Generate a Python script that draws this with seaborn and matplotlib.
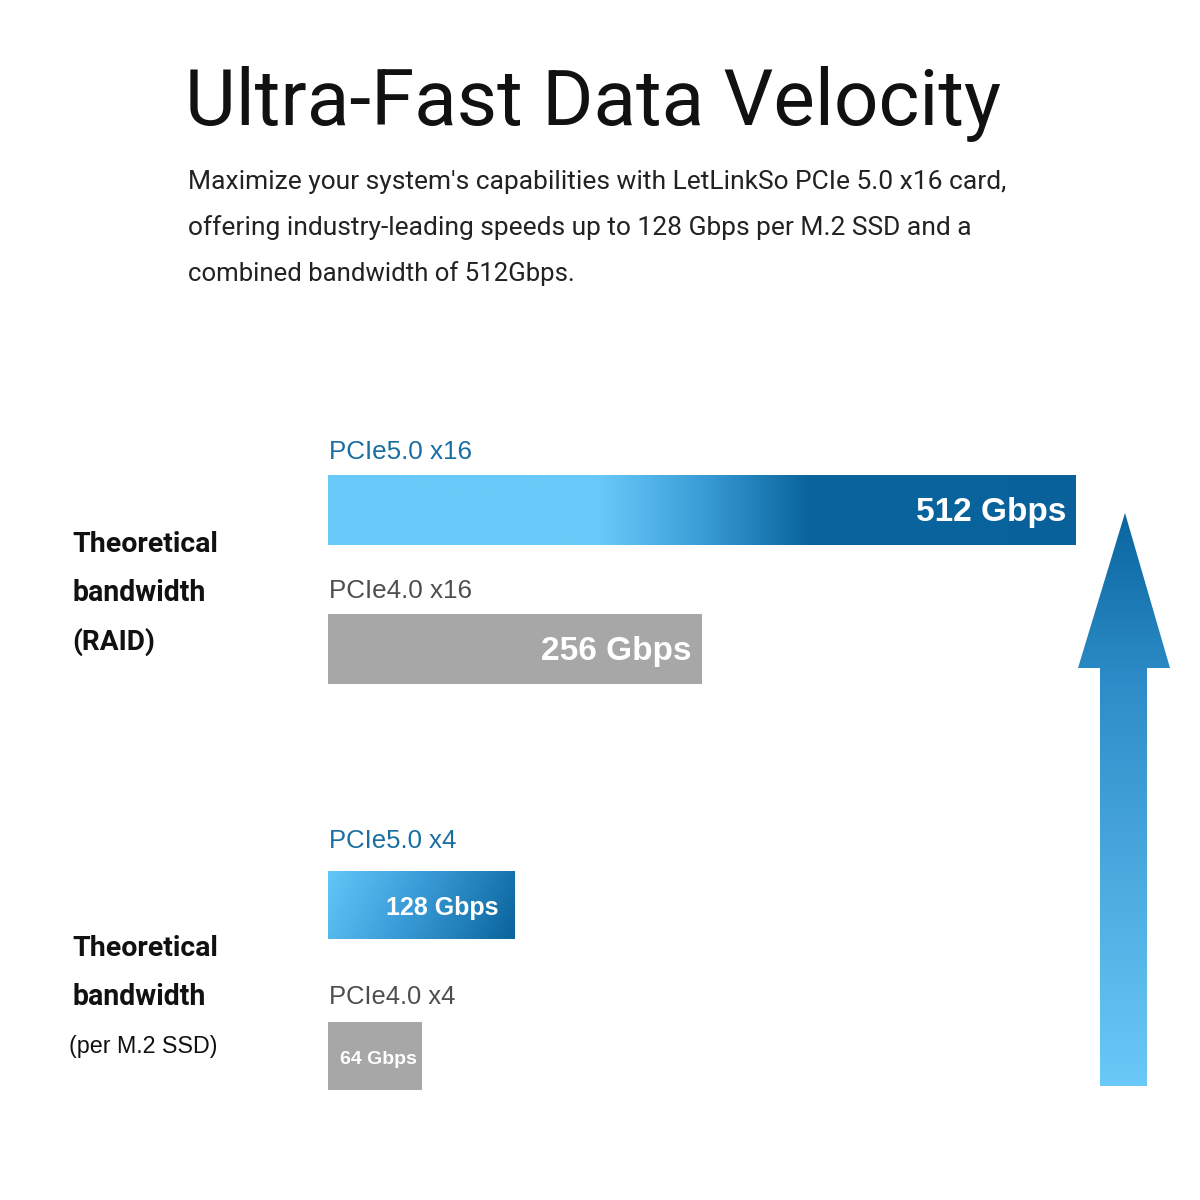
import numpy as np
import matplotlib
matplotlib.use("Agg")
import matplotlib.pyplot as plt
import seaborn as sns
from matplotlib.colors import LinearSegmentedColormap
from matplotlib.patches import Polygon

# --- data -------------------------------------------------------------
RAID_LINKS = ["PCIe5.0 x16", "PCIe4.0 x16"]
RAID_GBPS = [512, 256]
SSD_LINKS = ["PCIe5.0 x4", "PCIe4.0 x4"]
SSD_GBPS = [128, 64]
GROUP_LABELS = [
    ["Theoretical", "bandwidth", "(RAID)"],
    ["Theoretical", "bandwidth", "(per M.2 SSD)"],
]
TITLE = "Ultra-Fast Data Velocity"
SUBTITLE = [
    "Maximize your system's capabilities with LetLinkSo PCIe 5.0 x16 card,",
    "offering industry-leading speeds up to 128 Gbps per M.2 SSD and a",
    "combined bandwidth of 512Gbps.",
]

# --- style ------------------------------------------------------------
LIGHT = "#69CAF9"
MID = "#3A9DD6"
DARK = "#0A659E"
GRAY = "#A7A7A7"
NEW_TXT = "#1A6EA2"
OLD_TXT = "#4E4E4E"
HEAD_FONT = "Roboto"
CHART_FONT = "Liberation Sans"

W = H = 1200


def fx(px):
    return px / W


def fy(py):
    return 1 - py / H


def fit_width(txt, target_px, renderer):
    # scale font so the rendered text spans target_px
    w = txt.get_window_extent(renderer).width
    txt.set_fontsize(txt.get_fontsize() * target_px / w)


sns.set_theme(style="white")
plt.rcParams["font.family"] = [HEAD_FONT, "DejaVu Sans"]

fig = plt.figure(figsize=(12, 12), dpi=100)
fig.patch.set_facecolor("white")
renderer = fig.canvas.get_renderer()

# title and intro text
t = fig.text(fx(593), fy(104), TITLE, ha="center", va="center",
             fontsize=50, color="#111111", family=HEAD_FONT)
fit_width(t, 817, renderer)
sub_widths = [820, 782, 386]
for i, (line, sw) in enumerate(zip(SUBTITLE, sub_widths)):
    s = fig.text(fx(188), fy(182 + 46 * i), line, ha="left", va="center",
                 fontsize=16, color="#222222", family=HEAD_FONT)
    fit_width(s, sw, renderer)

# group labels on the left
label_widths = {"Theoretical": 146, "bandwidth": 134, "(RAID)": 83}
for lines, y0 in zip(GROUP_LABELS, [544, 948]):
    for j, line in enumerate(lines):
        if line.startswith("(per"):
            g = fig.text(fx(69), fy(y0 + 49 * j), line, ha="left", va="center",
                         fontsize=17, color="#111111", family=CHART_FONT,
                         fontweight="medium")
            fit_width(g, 149, renderer)
        else:
            g = fig.text(fx(72), fy(y0 + 49 * j), line, ha="left", va="center",
                         fontsize=18.5, color="#111111", family=HEAD_FONT,
                         fontweight="bold")
            fit_width(g, label_widths[line], renderer)

blue_bar = LinearSegmentedColormap.from_list(
    "blue_bar", [(0, LIGHT), (0.36, LIGHT), (0.5, MID), (0.64, DARK), (1, "#08619A")])
blue_small = LinearSegmentedColormap.from_list(
    "blue_small", [(0, "#63C6F8"), (0.45, "#3A9CD7"), (1, "#0A649D")])


def draw_group(rect, links, vals, width, label_sizes, label_pads, label_gap, link_width):
    ax = fig.add_axes(rect)
    colors = [LIGHT if "5.0" in l else GRAY for l in links]
    sns.barplot(x=vals, y=links, hue=links, palette=colors, orient="h",
                width=width, legend=False, ax=ax, saturation=1)
    ax.set_xlim(0, 512)
    ax.set_ylim(1.5, -0.5)
    ax.axis("off")
    for i, (bar, link, val) in enumerate(zip(ax.patches, links, vals)):
        bar.set_edgecolor("none")
        x0, y0 = bar.get_x(), bar.get_y()
        bw, bh = bar.get_width(), bar.get_height()
        if "5.0" in link:
            if val >= 512:
                grad = np.linspace(0, 1, 256)[None, :]
                cmap = blue_bar
            else:
                gx, gy = np.meshgrid(np.linspace(0, 1, 128), np.linspace(0, 1, 32))
                grad = 0.85 * gx + 0.15 * gy
                cmap = blue_small
            im = ax.imshow(grad, extent=[x0, x0 + bw, y0 + bh, y0], aspect="auto",
                           cmap=cmap, vmin=0, vmax=1, zorder=bar.get_zorder() + 0.1)
            im.set_clip_path(bar)
        ax.text(val - label_pads[i], i + 0.02, f"{val} Gbps", ha="right", va="center",
                color="white", fontsize=label_sizes[i], fontweight="bold",
                family=CHART_FONT, zorder=5)
        lab = ax.annotate(link, xy=(0, y0), xytext=(1, label_gap[i]),
                          textcoords="offset pixels", ha="left", va="center",
                          fontsize=17, family=CHART_FONT,
                          color=NEW_TXT if "5.0" in link else OLD_TXT)
        fit_width(lab, link_width[i], renderer)
    return ax


# bar panels (px geometry of the reference)
draw_group([fx(328), fy(718.5), 748 / W, 278 / H], RAID_LINKS, RAID_GBPS,
           0.51, [24, 24], [6.5, 7.5], [23, 23], [143, 143])
draw_group([fx(328), fy(1131.5), 748 / W, 302 / H], SSD_LINKS, SSD_GBPS,
           0.45, [18, 14], [11, 3.5], [30, 25], [127, 126])

# rising arrow on the right
ov = fig.add_axes([0, 0, 1, 1], zorder=-1)
ov.set_xlim(0, W)
ov.set_ylim(H, 0)
ov.axis("off")
arrow = Polygon([(1125, 513), (1170, 668), (1147, 668), (1147, 1086),
                 (1100, 1086), (1100, 668), (1078, 668)], closed=True,
                facecolor="none", edgecolor="none")
ov.add_patch(arrow)
arrow_cmap = LinearSegmentedColormap.from_list(
    "arrow", [(0, "#0A65A0"), (0.3, "#2E8DC8"), (1, "#6BC9F8")])
aim = ov.imshow(np.linspace(0, 1, 256)[:, None], extent=[1078, 1170, 1086, 513],
                aspect="auto", cmap=arrow_cmap)
aim.set_clip_path(arrow)
ov.set_xlim(0, W)
ov.set_ylim(H, 0)

fig.savefig("out.png", dpi=100, facecolor="white")
